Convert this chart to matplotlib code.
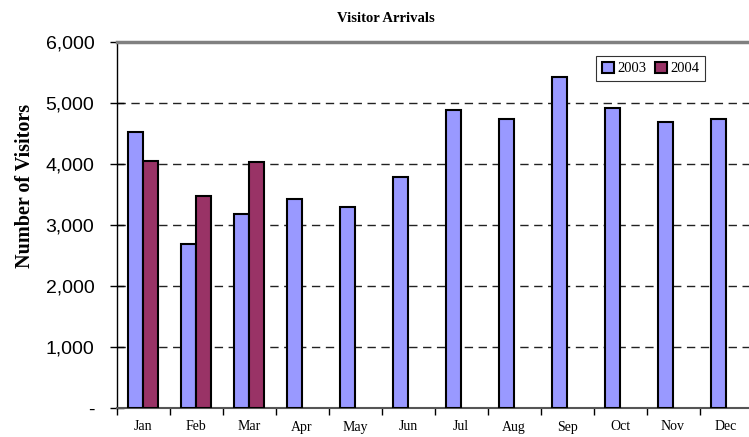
import numpy as np
import matplotlib.pyplot as plt
from matplotlib.ticker import FuncFormatter, FixedLocator

months = ['Jan', 'Feb', 'Mar', 'Apr', 'May', 'Jun',
          'Jul', 'Aug', 'Sep', 'Oct', 'Nov', 'Dec']
visitors_2003 = [4530, 2690, 3180, 3425, 3290, 3790,
                 4880, 4740, 5420, 4920, 4690, 4740]
visitors_2004 = [4055, 3480, 4025, np.nan, np.nan, np.nan,
                 np.nan, np.nan, np.nan, np.nan, np.nan, np.nan]

serif = 'Liberation Serif'
sans = 'Liberation Sans'

fig = plt.figure(figsize=(7.49, 4.37), dpi=100)
ax = fig.add_axes([116.5 / 749, 1 - 408 / 437, 636 / 749, 366 / 437])

x = np.arange(len(months))
w = 0.29
ax.bar(x - w / 2, visitors_2003, w, color='#9999FF', edgecolor='black',
       linewidth=1.5, label='2003', zorder=3)
ax.bar(x + w / 2, visitors_2004, w, color='#993366', edgecolor='black',
       linewidth=1.5, label='2004', zorder=3)

ax.set_xlim(-0.5, 11.5)
ax.set_ylim(0, 6000)
ax.set_yticks(range(0, 6001, 1000))
ax.yaxis.set_major_formatter(FuncFormatter(lambda v, p: '-' if v == 0 else f'{int(v):,}'))
for lab in ax.get_yticklabels():
    lab.set_fontfamily(sans)
ax.tick_params(axis='y', direction='inout', length=10, width=1, labelsize=14, pad=11)

ax.set_xticks(x)
ax.set_xticklabels(months, fontfamily=serif, fontsize=10)
ax.tick_params(axis='x', which='major', length=0, pad=9)
ax.xaxis.set_minor_locator(FixedLocator(np.arange(-0.5, 12, 1)))
ax.tick_params(axis='x', which='minor', direction='out', length=5, width=1)

for yv in range(1000, 6000, 1000):
    ax.axhline(yv, color='#222222', linestyle=(0, (6, 4)), linewidth=1, zorder=1)

ax.spines['top'].set_color('#808080')
ax.spines['top'].set_linewidth(2.5)
ax.spines['right'].set_visible(False)
ax.spines['left'].set_color('black')
ax.spines['left'].set_linewidth(1)
ax.spines['bottom'].set_color('#555555')
ax.spines['bottom'].set_linewidth(1.5)

fig.text(386 / 749, 1 - 19 / 437, 'Visitor Arrivals',
         fontfamily=serif, fontweight='bold', fontsize=10.5, ha='center', va='center')
fig.text(25 / 749, 1 - 186 / 437, 'Number of Visitors', rotation=90,
         fontfamily=serif, fontweight='bold', fontsize=14.5, ha='center', va='center')

leg = ax.legend(loc='upper left', bbox_to_anchor=((596 - 116.5) / 636, (408 - 56) / 366),
                ncol=2, prop={'family': serif, 'size': 10.5}, frameon=True, fancybox=False,
                handlelength=0.8, handleheight=0.8, handletextpad=0.25, columnspacing=0.6,
                borderpad=0.4, borderaxespad=0)
leg.get_frame().set_edgecolor('black')
leg.get_frame().set_linewidth(0.8)

fig.savefig('out.png', dpi=100)
